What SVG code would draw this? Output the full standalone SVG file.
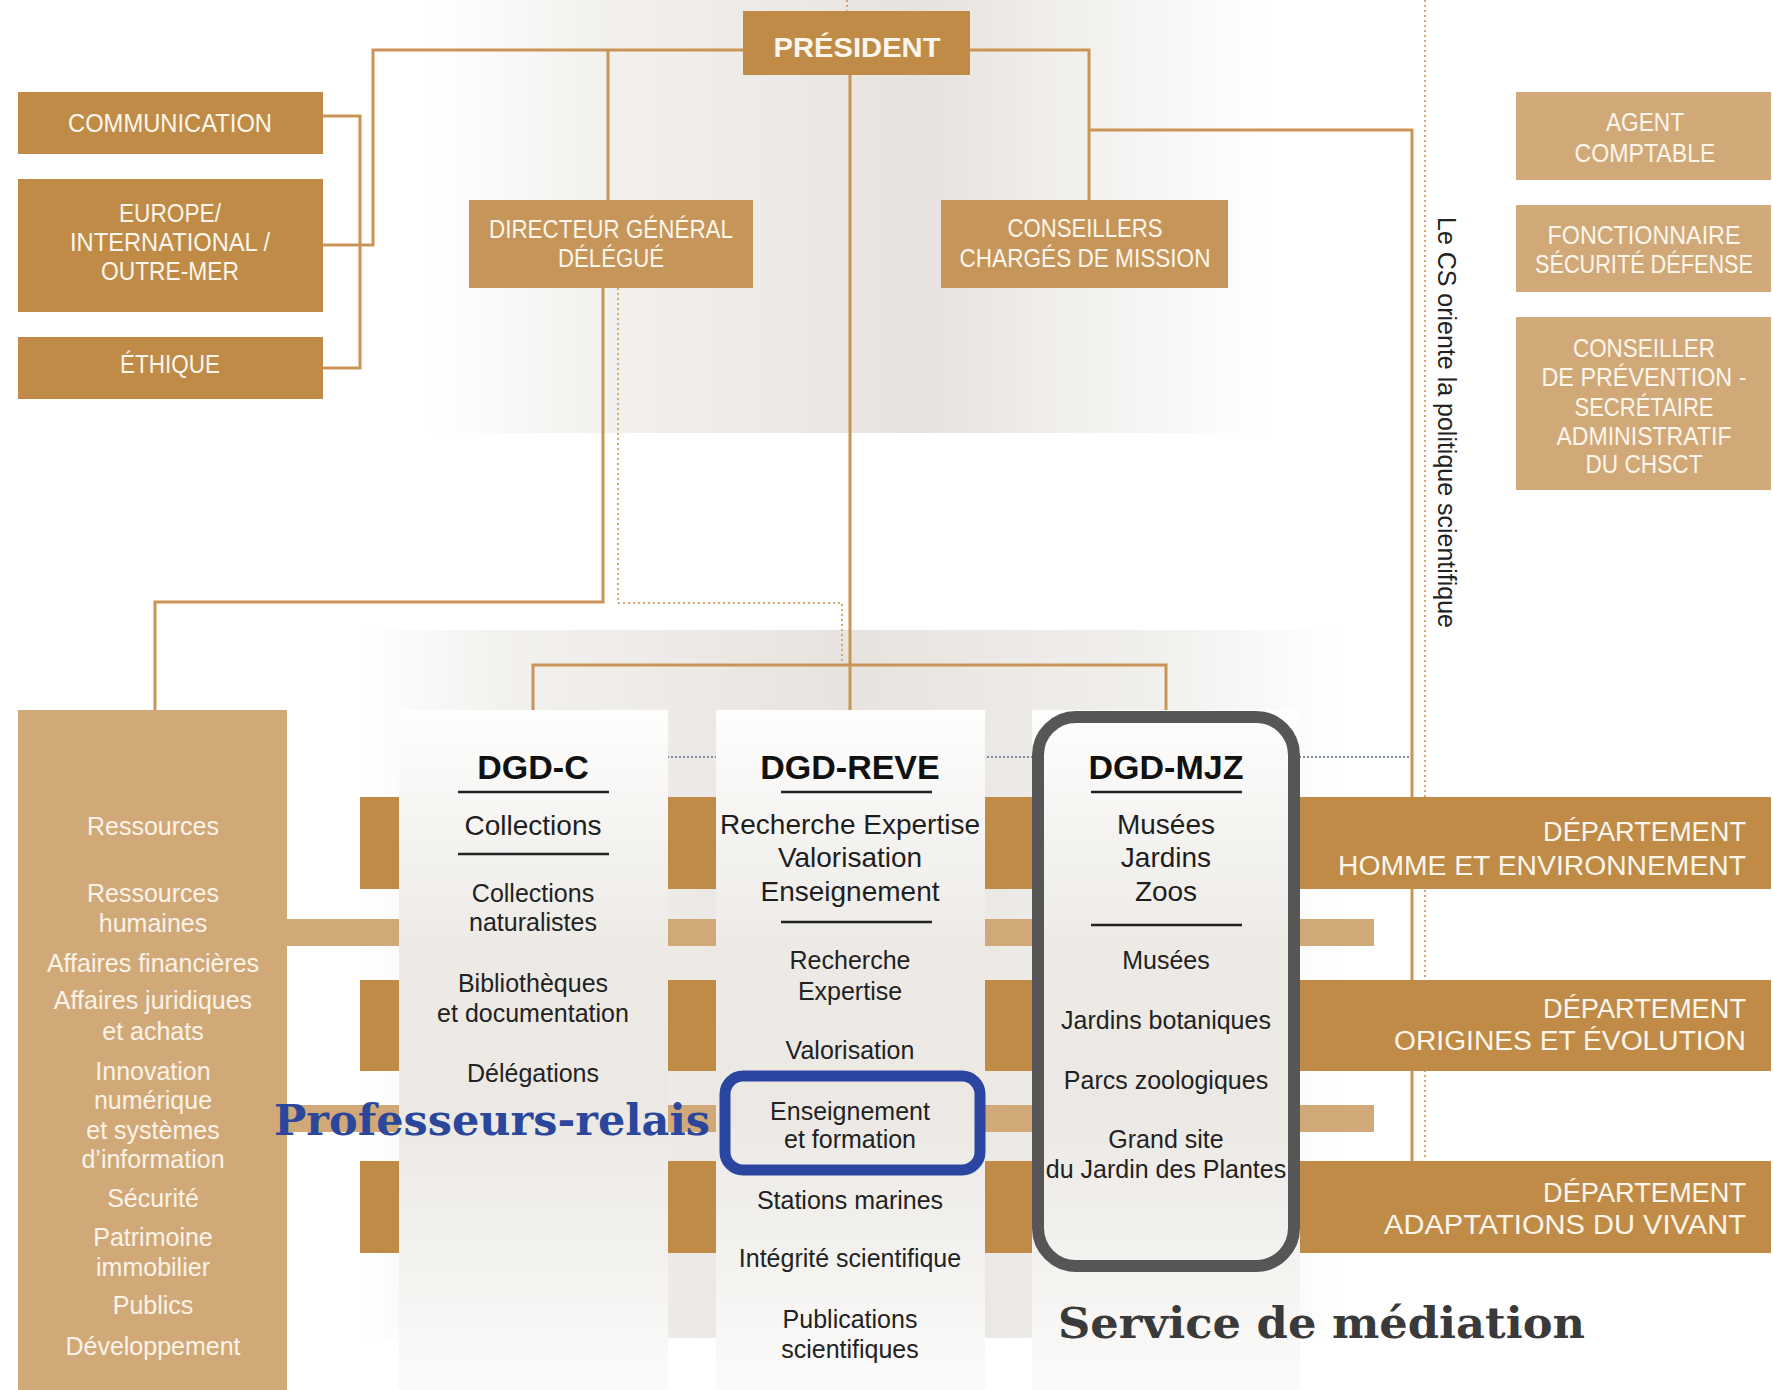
<svg xmlns="http://www.w3.org/2000/svg" width="1773" height="1390" viewBox="0 0 1773 1390">
<defs>
<linearGradient id="gTop" x1="430" y1="0" x2="1270" y2="0" gradientUnits="userSpaceOnUse">
<stop offset="0" stop-color="#FFFFFF"/>
<stop offset="0.2" stop-color="#F3F1EE"/>
<stop offset="0.45" stop-color="#ECE9E5"/>
<stop offset="0.58" stop-color="#E6E2DD"/>
<stop offset="0.75" stop-color="#F1EFEC"/>
<stop offset="1" stop-color="#FFFFFF"/>
</linearGradient>
<linearGradient id="gLow" x1="360" y1="0" x2="1340" y2="0" gradientUnits="userSpaceOnUse">
<stop offset="0" stop-color="#FFFFFF"/>
<stop offset="0.15" stop-color="#F3F1EE"/>
<stop offset="0.5" stop-color="#E7E4DF"/>
<stop offset="0.8" stop-color="#F1EFEC"/>
<stop offset="1" stop-color="#FFFFFF"/>
</linearGradient>
<linearGradient id="gCol" x1="0" y1="710" x2="0" y2="1390" gradientUnits="userSpaceOnUse">
<stop offset="0" stop-color="#FEFEFD"/>
<stop offset="0.35" stop-color="#EDEAE6"/>
<stop offset="0.6" stop-color="#ECE9E5"/>
<stop offset="1" stop-color="#FBFBFA"/>
</linearGradient>
<style>
.ln{fill:none;stroke:#C99556;stroke-width:3}
.dot{fill:none;stroke:#D9A66E;stroke-width:2;stroke-dasharray:2 3}
.dark{fill:#BF8B47}
.mid{fill:#C69559}
.light{fill:#D1A978}
.bt{font-family:"Liberation Sans Narrow","Liberation Sans",Arial,sans-serif;font-size:25px;fill:#FDF6EC;text-anchor:middle}
.pres{font-family:"Liberation Sans",Arial,sans-serif;font-weight:bold;font-size:28px;fill:#FDF6EC;text-anchor:middle}
.dep{font-family:"Liberation Sans",Arial,sans-serif;font-size:27px;fill:#FDF6EC}
.res{font-family:"Liberation Sans",Arial,sans-serif;font-size:25px;fill:#FBF3E8;text-anchor:middle}
.col{font-family:"Liberation Sans",Arial,sans-serif;font-size:25px;fill:#222222;text-anchor:middle}
.colb{font-family:"Liberation Sans",Arial,sans-serif;font-size:28px;fill:#1E1E1E;text-anchor:middle}
.ttl{font-family:"Liberation Sans",Arial,sans-serif;font-weight:bold;font-size:34px;fill:#111111;text-anchor:middle}
.ul{stroke:#222222;stroke-width:2.5}
.ann{font-family:"DejaVu Serif","Liberation Serif",serif;font-weight:bold;font-size:42px}
</style>
</defs>
<rect x="0" y="0" width="1773" height="1390" fill="#FFFFFF"/>
<rect x="430" y="0" width="840" height="433" fill="url(#gTop)"/>
<rect x="360" y="630" width="980" height="708" fill="url(#gLow)"/>

<g id="connectors">
<path class="dot" d="M847,0 V11"/>
<path class="dot" d="M1425,0 V1160"/>
<path d="M667,757 H1412" fill="none" stroke="#7D8CA3" stroke-width="2" stroke-dasharray="2 2"/>
<path class="ln" d="M743,50 H373 V245 H323"/>
<path class="ln" d="M323,116 H360 V368 H323"/>
<path class="ln" d="M608,50 V200"/>
<path class="ln" d="M970,50 H1089 V200"/>
<path class="ln" d="M1089,130 H1412 V1161"/>
<path class="ln" d="M850,75 V710"/>
<path class="ln" d="M533,710 V665 H1166 V710"/>
<path class="ln" d="M603,288 V602 H155 V710"/>
<path class="dot" d="M618,288 V603 H842 V664"/>
</g>

<g id="bands">
<rect class="dark" x="360" y="797" width="1411" height="92"/>
<rect class="dark" x="360" y="980" width="1411" height="91"/>
<rect class="dark" x="360" y="1161" width="1411" height="92"/>
<rect class="light" x="287" y="919" width="1087" height="27"/>
<rect class="light" x="287" y="1105" width="1087" height="27"/>
</g>

<g id="president">
<rect class="dark" x="743" y="11" width="227" height="64"/>
<text class="pres" x="857" y="57" textLength="167" lengthAdjust="spacingAndGlyphs">PRÉSIDENT</text>
</g>
<g id="communication">
<rect class="dark" x="18" y="92" width="305" height="62"/>
<text class="bt" x="170" y="132" textLength="204" lengthAdjust="spacingAndGlyphs">COMMUNICATION</text>
</g>
<g id="europe">
<rect class="dark" x="18" y="179" width="305" height="133"/>
<text class="bt" x="170" y="222" textLength="102" lengthAdjust="spacingAndGlyphs">EUROPE/</text>
<text class="bt" x="170" y="251" textLength="200" lengthAdjust="spacingAndGlyphs">INTERNATIONAL /</text>
<text class="bt" x="170" y="280" textLength="138" lengthAdjust="spacingAndGlyphs">OUTRE-MER</text>
</g>
<g id="ethique">
<rect class="dark" x="18" y="337" width="305" height="62"/>
<text class="bt" x="170" y="373" textLength="100" lengthAdjust="spacingAndGlyphs">ÉTHIQUE</text>
</g>
<g id="dg">
<rect class="mid" x="469" y="200" width="284" height="88"/>
<text class="bt" x="611" y="238" textLength="244" lengthAdjust="spacingAndGlyphs">DIRECTEUR GÉNÉRAL</text>
<text class="bt" x="611" y="267" textLength="106" lengthAdjust="spacingAndGlyphs">DÉLÉGUÉ</text>
</g>
<g id="conseillers">
<rect class="mid" x="941" y="200" width="287" height="88"/>
<text class="bt" x="1085" y="237" textLength="155" lengthAdjust="spacingAndGlyphs">CONSEILLERS</text>
<text class="bt" x="1085" y="267" textLength="251" lengthAdjust="spacingAndGlyphs">CHARGÉS DE MISSION</text>
</g>
<g id="agent">
<rect class="light" x="1516" y="92" width="255" height="88"/>
<text class="bt" x="1645" y="131" textLength="78" lengthAdjust="spacingAndGlyphs">AGENT</text>
<text class="bt" x="1645" y="162" textLength="141" lengthAdjust="spacingAndGlyphs">COMPTABLE</text>
</g>
<g id="fonctionnaire">
<rect class="light" x="1516" y="205" width="255" height="87"/>
<text class="bt" x="1644" y="244" textLength="193" lengthAdjust="spacingAndGlyphs">FONCTIONNAIRE</text>
<text class="bt" x="1644" y="273" textLength="218" lengthAdjust="spacingAndGlyphs">SÉCURITÉ DÉFENSE</text>
</g>
<g id="prevention">
<rect class="light" x="1516" y="317" width="255" height="173"/>
<text class="bt" x="1644" y="357" textLength="142" lengthAdjust="spacingAndGlyphs">CONSEILLER</text>
<text class="bt" x="1644" y="386" textLength="205" lengthAdjust="spacingAndGlyphs">DE PRÉVENTION -</text>
<text class="bt" x="1644" y="416" textLength="139" lengthAdjust="spacingAndGlyphs">SECRÉTAIRE</text>
<text class="bt" x="1644" y="445" textLength="175" lengthAdjust="spacingAndGlyphs">ADMINISTRATIF</text>
<text class="bt" x="1644" y="473" textLength="117" lengthAdjust="spacingAndGlyphs">DU CHSCT</text>
</g>
<g id="cs-note">
<text x="1447" y="217" writing-mode="vertical-rl" font-family="Liberation Sans, Arial, sans-serif" font-size="25" fill="#222222" textLength="411" lengthAdjust="spacingAndGlyphs">Le CS oriente la politique scientifique</text>
</g>

<g id="ressources">
<rect class="light" x="18" y="710" width="269" height="680"/>
<text class="res" x="153" y="835" font-size="26">Ressources</text>
<text class="res" x="153" y="902">Ressources</text>
<text class="res" x="153" y="932">humaines</text>
<text class="res" x="153" y="972">Affaires financières</text>
<text class="res" x="153" y="1009">Affaires juridiques</text>
<text class="res" x="153" y="1040">et achats</text>
<text class="res" x="153" y="1080">Innovation</text>
<text class="res" x="153" y="1109">numérique</text>
<text class="res" x="153" y="1139">et systèmes</text>
<text class="res" x="153" y="1168">d’information</text>
<text class="res" x="153" y="1207">Sécurité</text>
<text class="res" x="153" y="1246">Patrimoine</text>
<text class="res" x="153" y="1276">immobilier</text>
<text class="res" x="153" y="1314">Publics</text>
<text class="res" x="153" y="1355">Développement</text>
</g>

<g id="dgd-c">
<rect x="399" y="710" width="269" height="680" fill="url(#gCol)"/>
<text class="ttl" x="533" y="779">DGD-C</text>
<line class="ul" x1="458" y1="792" x2="609" y2="792"/>
<text class="colb" x="533" y="835">Collections</text>
<line class="ul" x1="458" y1="854" x2="609" y2="854"/>
<text class="col" x="533" y="902">Collections</text>
<text class="col" x="533" y="931">naturalistes</text>
<text class="col" x="533" y="992">Bibliothèques</text>
<text class="col" x="533" y="1022">et documentation</text>
<text class="col" x="533" y="1082">Délégations</text>
</g>

<g id="dgd-reve">
<rect x="716" y="710" width="269" height="680" fill="url(#gCol)"/>
<text class="ttl" x="850" y="779">DGD-REVE</text>
<line class="ul" x1="781" y1="792" x2="932" y2="792"/>
<text class="colb" x="850" y="834">Recherche Expertise</text>
<text class="colb" x="850" y="867">Valorisation</text>
<text class="colb" x="850" y="901">Enseignement</text>
<line class="ul" x1="781" y1="922" x2="932" y2="922"/>
<text class="col" x="850" y="969">Recherche</text>
<text class="col" x="850" y="1000">Expertise</text>
<text class="col" x="850" y="1059">Valorisation</text>
<text class="col" x="850" y="1120">Enseignement</text>
<text class="col" x="850" y="1148">et formation</text>
<text class="col" x="850" y="1209">Stations marines</text>
<text class="col" x="850" y="1267">Intégrité scientifique</text>
<text class="col" x="850" y="1328">Publications</text>
<text class="col" x="850" y="1358">scientifiques</text>
</g>

<g id="dgd-mjz">
<rect x="1032" y="710" width="268" height="680" fill="url(#gCol)"/>
<text class="ttl" x="1166" y="779">DGD-MJZ</text>
<line class="ul" x1="1091" y1="792" x2="1242" y2="792"/>
<text class="colb" x="1166" y="834">Musées</text>
<text class="colb" x="1166" y="867">Jardins</text>
<text class="colb" x="1166" y="901">Zoos</text>
<line class="ul" x1="1091" y1="925" x2="1242" y2="925"/>
<text class="col" x="1166" y="969">Musées</text>
<text class="col" x="1166" y="1029">Jardins botaniques</text>
<text class="col" x="1166" y="1089">Parcs zoologiques</text>
<text class="col" x="1166" y="1148">Grand site</text>
<text class="col" x="1166" y="1178">du Jardin des Plantes</text>
</g>

<g id="departements">
<text class="dep" x="1543" y="841" textLength="203" lengthAdjust="spacingAndGlyphs">DÉPARTEMENT</text>
<text class="dep" x="1338" y="875" textLength="408" lengthAdjust="spacingAndGlyphs">HOMME ET ENVIRONNEMENT</text>
<text class="dep" x="1543" y="1018" textLength="203" lengthAdjust="spacingAndGlyphs">DÉPARTEMENT</text>
<text class="dep" x="1394" y="1050" textLength="352" lengthAdjust="spacingAndGlyphs">ORIGINES ET ÉVOLUTION</text>
<text class="dep" x="1543" y="1202" textLength="203" lengthAdjust="spacingAndGlyphs">DÉPARTEMENT</text>
<text class="dep" x="1384" y="1234" textLength="362" lengthAdjust="spacingAndGlyphs">ADAPTATIONS DU VIVANT</text>
</g>

<g id="highlights">
<rect x="725" y="1076" width="255" height="94" rx="18" fill="none" stroke="#2A46A0" stroke-width="11"/>
<rect x="1038" y="717" width="256" height="549" rx="38" fill="none" stroke="#565656" stroke-width="12"/>
<text class="ann" x="274" y="1135" fill="#2B479C" textLength="436" lengthAdjust="spacingAndGlyphs">Professeurs-relais</text>
<text class="ann" x="1058" y="1338" fill="#3A3A3A" textLength="527" lengthAdjust="spacingAndGlyphs">Service de médiation</text>
</g>
</svg>
